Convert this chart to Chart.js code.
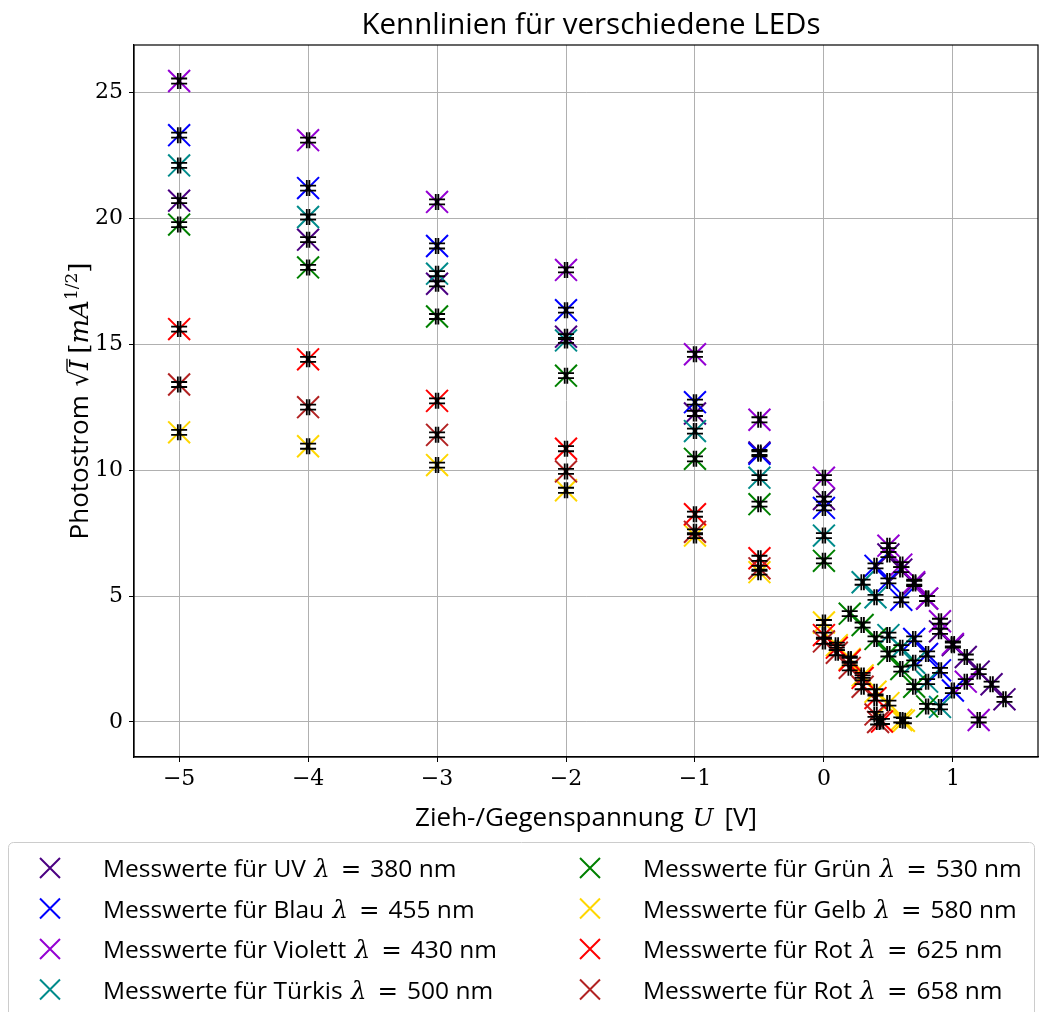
<!DOCTYPE html>
<html>
<head>
<meta charset="utf-8">
<script src="https://cdn.jsdelivr.net/npm/chart.js@4.4.0/dist/chart.umd.min.js"></script>
<style>
  html, body { margin: 0; padding: 0; background: #fff; overflow: hidden; }
  #wrap { width: 1039px; height: 1012px; position: relative; }
  canvas { display: block; }
</style>
</head>
<body>
<div id="wrap"><canvas id="chart"></canvas></div>
<script>
// Messwerte: Spannung U [V] und Wurzel des Photostroms [mA^1/2]
const uvU = [-5, -4, -3, -2, -1, -0.5, 0, 0.5, 0.6, 0.7, 0.8, 0.9, 1.0, 1.1, 1.2, 1.3, 1.4];
const uvI = [20.7, 19.15, 17.4, 15.3, 12.25, 10.7, 8.85, 6.65, 6.05, 5.5, 4.9, 3.6, 3.05, 2.58, 2.0, 1.5, 0.9];

const blauU = [-5, -4, -3, -2, -1, -0.5, 0, 0.4, 0.5, 0.6, 0.7, 0.8, 0.9, 1.0];
const blauI = [23.3, 21.2, 18.9, 16.35, 12.7, 10.65, 8.5, 6.2, 5.6, 4.85, 3.3, 2.7, 2.05, 1.25];

const violettU = [-5, -4, -3, -2, -1, -0.5, 0, 0.5, 0.6, 0.7, 0.8, 0.9, 1.0, 1.1, 1.2];
const violettI = [25.45, 23.1, 20.65, 17.95, 14.6, 12.0, 9.7, 7.0, 6.25, 5.55, 4.9, 4.0, 3.1, 1.6, 0.08];

const tuerkisU = [-5, -4, -3, -2, -1, -0.5, 0, 0.3, 0.4, 0.5, 0.6, 0.7, 0.8, 0.9];
const tuerkisI = [22.1, 20.05, 17.8, 15.15, 11.55, 9.7, 7.4, 5.55, 4.95, 3.45, 2.95, 2.35, 1.6, 0.6];

const gruenU = [-5, -4, -3, -2, -1, -0.5, 0, 0.2, 0.3, 0.4, 0.5, 0.6, 0.7, 0.8];
const gruenI = [19.75, 18.05, 16.1, 13.75, 10.45, 8.65, 6.4, 4.3, 3.85, 3.3, 2.7, 2.1, 1.4, 0.62];

const gelbU = [-5, -4, -3, -2, -1, -0.5, 0, 0.1, 0.2, 0.3, 0.4, 0.5, 0.6, 0.62];
const gelbI = [11.5, 10.95, 10.2, 9.2, 7.4, 5.95, 3.95, 3.05, 2.5, 1.85, 1.2, 0.75, 0.08, 0.05];

const rot625U = [-5, -4, -3, -2, -1, -0.5, 0, 0.1, 0.2, 0.3, 0.4, 0.45];
const rot625I = [15.6, 14.4, 12.75, 10.85, 8.25, 6.5, 3.45, 2.95, 2.45, 1.75, 0.95, 0.02];

const rot658U = [-5, -4, -3, -2, -1, -0.5, 0, 0.1, 0.2, 0.3, 0.4, 0.42];
const rot658I = [13.4, 12.5, 11.4, 9.95, 7.55, 6.1, 3.2, 2.75, 2.15, 1.4, 0.3, 0.0];

// Fehler (fuer die schwarzen Fehlerbalken)
const fehlerU = 0.01;
const fehlerI = 0.1;

const xTicks = [-5, -4, -3, -2, -1, 0, 1];
const yTicks = [0, 5, 10, 15, 20, 25];

const serien = [
  { name: 'UV', lambda: 380, color: '#4b0082', u: uvU, i: uvI },
  { name: 'Blau', lambda: 455, color: '#0000ff', u: blauU, i: blauI },
  { name: 'Violett', lambda: 430, color: '#9400d3', u: violettU, i: violettI },
  { name: 'Türkis', lambda: 500, color: '#008b8b', u: tuerkisU, i: tuerkisI },
  { name: 'Grün', lambda: 530, color: '#008000', u: gruenU, i: gruenI },
  { name: 'Gelb', lambda: 580, color: '#ffd700', u: gelbU, i: gelbI },
  { name: 'Rot', lambda: 625, color: '#ff0000', u: rot625U, i: rot625I },
  { name: 'Rot', lambda: 658, color: '#b22222', u: rot658U, i: rot658I }
];

const SANS = '"Open Sans", "DejaVu Sans", sans-serif';
const SERIF = '"DejaVu Serif", "Liberation Serif", serif';

// parts: {t: text, f: font, dy: shift, ov: overline height, gap: extra space after}
function drawRich(ctx, parts, x, y, align) {
  let w = 0;
  parts.forEach(p => { ctx.font = p.f; w += ctx.measureText(p.t).width + (p.gap || 0); });
  let cx = align === 'center' ? x - w / 2 : x;
  ctx.textAlign = 'left';
  ctx.textBaseline = 'alphabetic';
  parts.forEach(p => {
    ctx.font = p.f;
    const tw = ctx.measureText(p.t).width;
    ctx.fillText(p.t, cx, y + (p.dy || 0));
    if (p.ov) {
      ctx.save();
      ctx.strokeStyle = ctx.fillStyle;
      ctx.lineWidth = 1.3;
      ctx.beginPath();
      ctx.moveTo(cx - 1, y - p.ov);
      ctx.lineTo(cx + tw + 1, y - p.ov);
      ctx.stroke();
      ctx.restore();
    }
    cx += tw + (p.gap || 0);
  });
}

function drawX(ctx, x, y, r, color) {
  ctx.save();
  ctx.strokeStyle = color;
  ctx.lineWidth = 2;
  ctx.beginPath();
  ctx.moveTo(x - r, y - r); ctx.lineTo(x + r, y + r);
  ctx.moveTo(x - r, y + r); ctx.lineTo(x + r, y - r);
  ctx.stroke();
  ctx.restore();
}

const extras = {
  id: 'extras',
  afterDatasetsDraw(chart) {
    const ctx = chart.ctx;
    const xs = chart.scales.x, ys = chart.scales.y;
    const cap = 8;
    ctx.save();
    ctx.strokeStyle = '#000';
    ctx.lineWidth = 1.8;
    serien.forEach(s => {
      s.u.forEach((u, k) => {
        const px = xs.getPixelForValue(u), py = ys.getPixelForValue(s.i[k]);
        const x1 = xs.getPixelForValue(u - fehlerU), x2 = xs.getPixelForValue(u + fehlerU);
        const y1 = ys.getPixelForValue(s.i[k] - fehlerI), y2 = ys.getPixelForValue(s.i[k] + fehlerI);
        ctx.beginPath();
        ctx.moveTo(x1, py); ctx.lineTo(x2, py);
        ctx.moveTo(x1, py - cap); ctx.lineTo(x1, py + cap);
        ctx.moveTo(x2, py - cap); ctx.lineTo(x2, py + cap);
        ctx.moveTo(px, y1); ctx.lineTo(px, y2);
        ctx.moveTo(px - cap, y1); ctx.lineTo(px + cap, y1);
        ctx.moveTo(px - cap, y2); ctx.lineTo(px + cap, y2);
        ctx.stroke();
      });
    });
    ctx.restore();
  },
  afterDraw(chart) {
    const ctx = chart.ctx;
    const a = chart.chartArea;
    ctx.save();
    // Rahmen
    ctx.strokeStyle = '#000';
    ctx.lineWidth = 1.2;
    ctx.strokeRect(a.left, a.top, a.right - a.left, a.bottom - a.top);

    ctx.fillStyle = '#000';
    const cxm = (a.left + a.right) / 2;
    // Titel
    drawRich(ctx, [{ t: 'Kennlinien für verschiedene LEDs', f: '29.5px ' + SANS }], cxm + 5, 34, 'center');
    // x-Achse
    drawRich(ctx, [
      { t: 'Zieh-/Gegenspannung ', f: '26px ' + SANS, gap: 2 },
      { t: 'U', f: 'italic 25px ' + SERIF, gap: 4 },
      { t: ' [V]', f: '26px ' + SANS }
    ], cxm, 826, 'center');
    // y-Achse
    ctx.save();
    ctx.translate(88, 401);
    ctx.rotate(-Math.PI / 2);
    drawRich(ctx, [
      { t: 'Photostrom ', f: '26px ' + SANS, gap: 2 },
      { t: '√', f: '26px ' + SERIF },
      { t: 'I', f: 'italic 26px ' + SERIF, ov: 21, gap: 6 },
      { t: '[', f: '26px ' + SERIF },
      { t: 'mA', f: 'italic 26px ' + SERIF },
      { t: '1/2', f: '17px ' + SERIF, dy: -11 },
      { t: ']', f: '26px ' + SERIF }
    ], 0, 0, 'center');
    ctx.restore();

    // Legende
    ctx.fillStyle = 'rgba(255,255,255,0.8)';
    ctx.strokeStyle = '#cccccc';
    ctx.lineWidth = 1;
    ctx.beginPath();
    ctx.roundRect(8.5, 842.5, 1026, 200, 5);
    ctx.fill();
    ctx.stroke();
    serien.forEach((s, k) => {
      const col = Math.floor(k / 4), row = k % 4;
      const mx = col === 0 ? 50 : 590;
      const tx = col === 0 ? 103 : 643;
      const by = 877 + row * 40.5;
      drawX(ctx, mx, by - 9, 10, s.color);
      ctx.fillStyle = '#000';
      drawRich(ctx, [
        { t: 'Messwerte für ' + s.name + ' ', f: '24.5px ' + SANS, gap: 2 },
        { t: 'λ', f: 'italic 24.5px ' + SERIF, gap: 11 },
        { t: '=', f: '24.5px ' + SERIF, gap: 9 },
        { t: s.lambda + ' nm', f: '24.5px ' + SANS }
      ], tx, by, 'left');
    });
    ctx.restore();
  }
};

const datasets = serien.map((s, k) => ({
  label: 'Messwerte für ' + s.name + ' λ = ' + s.lambda + ' nm',
  data: s.u.map((u, j) => ({ x: u, y: s.i[j] })),
  borderColor: s.color,
  backgroundColor: s.color,
  pointStyle: 'crossRot',
  pointRadius: 15.5,
  pointHoverRadius: 15.5,
  pointBorderWidth: 2,
  showLine: false,
  order: serien.length - k
}));

const minus = v => String(v).replace('-', '\u2212');

new Chart(document.getElementById('chart'), {
  type: 'scatter',
  data: { datasets: datasets },
  options: {
    responsive: true,
    maintainAspectRatio: false,
    animation: false,
    layout: { autoPadding: false, padding: { left: 0, right: 1, top: 45, bottom: 170 } },
    plugins: {
      legend: { display: false },
      title: { display: false },
      tooltip: { enabled: false }
    },
    scales: {
      x: {
        type: 'linear',
        min: -5.35,
        max: 1.66,
        afterFit: sc => { sc.height = 85; sc.paddingRight = 0; sc.paddingLeft = 0; },
        afterBuildTicks: sc => { sc.ticks = xTicks.map(v => ({ value: v })); },
        ticks: { font: { family: SERIF, size: 22 }, color: '#000', padding: 4, callback: minus },
        grid: { color: '#b0b0b0', lineWidth: 1, tickColor: '#000', tickLength: 5 },
        border: { color: '#000', width: 1.2 }
      },
      y: {
        type: 'linear',
        min: -1.39,
        max: 26.88,
        afterFit: sc => { sc.width = 134; sc.paddingTop = 0; sc.paddingBottom = 0; },
        afterBuildTicks: sc => { sc.ticks = yTicks.map(v => ({ value: v })); },
        ticks: { font: { family: SERIF, size: 22 }, color: '#000', padding: 6, callback: minus },
        grid: { color: '#b0b0b0', lineWidth: 1, tickColor: '#000', tickLength: 5 },
        border: { color: '#000', width: 1.2 }
      }
    }
  },
  plugins: [extras]
});
</script>
</body>
</html>
